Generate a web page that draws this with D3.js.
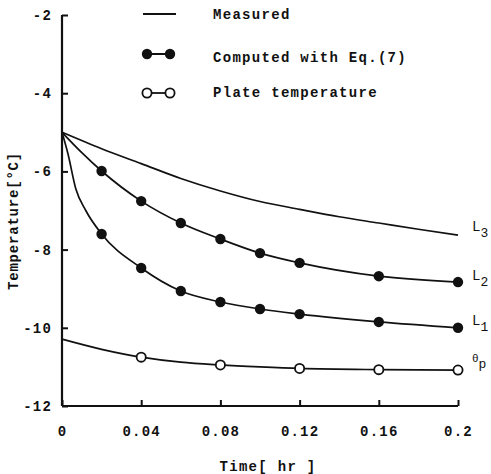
<!DOCTYPE html>
<html>
<head>
<meta charset="utf-8">
<script src="https://cdn.jsdelivr.net/npm/d3@7"></script>
<style>
  body { margin: 0; background: #fff; }
  text { font-family: "Liberation Mono", "DejaVu Sans Mono", monospace; font-weight: bold; fill: #111; }
</style>
</head>
<body>
<svg></svg>
<script>
// tick values
let xTicks = [0, 0.04, 0.08, 0.12, 0.16, 0.2]
let yTicks = [-12, -10, -8, -6, -4, -2]

// measured curve L3 (no markers)
let l3Time = [0, 0.02, 0.04, 0.06, 0.08, 0.10, 0.12, 0.14, 0.16, 0.18, 0.2]
let l3Temp = [-5, -5.42, -5.8, -6.18, -6.5, -6.77, -6.97, -7.16, -7.32, -7.48, -7.63]

// L2 line and computed points
let l2Time = [0, 0.01, 0.02, 0.04, 0.06, 0.08, 0.10, 0.12, 0.16, 0.2]
let l2Temp = [-5, -5.52, -5.99, -6.76, -7.32, -7.73, -8.09, -8.34, -8.68, -8.83]

// L1 line and computed points
let l1Time = [0, 0.003, 0.007, 0.012, 0.02, 0.04, 0.06, 0.08, 0.10, 0.12, 0.16, 0.2]
let l1Temp = [-5, -5.55, -6.45, -7.0, -7.6, -8.47, -9.06, -9.34, -9.52, -9.65, -9.85, -10.0]

let compTime = [0.02, 0.04, 0.06, 0.08, 0.10, 0.12, 0.16, 0.2]
let compL2 = [-5.99, -6.76, -7.32, -7.73, -8.09, -8.34, -8.68, -8.83]
let compL1 = [-7.6, -8.47, -9.06, -9.34, -9.52, -9.65, -9.85, -10.0]

// plate temperature
let plateTime = [0, 0.02, 0.04, 0.06, 0.08, 0.10, 0.12, 0.16, 0.2]
let plateTemp = [-10.29, -10.55, -10.75, -10.88, -10.95, -11.0, -11.04, -11.07, -11.08]
let plateMarkTime = [0.04, 0.08, 0.12, 0.16, 0.2]
let plateMarkTemp = [-10.75, -10.95, -11.04, -11.07, -11.08]

let width = 491
let height = 474

let svg = d3.select('svg').attr('width', width).attr('height', height)

let xScale = d3.scaleLinear().domain([0, 0.2]).range([62, 458])
let yScale = d3.scaleLinear().domain([-12, -2]).range([406, 15])

let zip = (xs, ys) => xs.map((x, i) => [x, ys[i]])

let line = d3.line()
    .x(d => xScale(d[0]))
    .y(d => yScale(d[1]))
    .curve(d3.curveMonotoneX)

let drawAxes = () => {
    let xAxis = d3.axisBottom(xScale)
        .tickValues(xTicks)
        .tickSize(-6)
        .tickPadding(20)
        .tickFormat(d => String(+d.toFixed(2)))
    let yAxis = d3.axisLeft(yScale)
        .tickValues(yTicks)
        .tickSize(-6)
        .tickPadding(10)
        .tickFormat(d => (d < 0 ? '-' : '') + Math.abs(d))

    let gx = svg.append('g')
        .attr('transform', 'translate(0,' + yScale(-12) + ')')
        .call(xAxis)
    let gy = svg.append('g')
        .attr('transform', 'translate(' + xScale(0) + ',0)')
        .call(yAxis)

    for (let g of [gx, gy]) {
        g.select('.domain').attr('stroke', '#111').attr('stroke-width', 2.2)
        g.selectAll('.tick line').attr('stroke', '#111').attr('stroke-width', 2)
        g.selectAll('.tick text')
            .style('font-size', '14px')
            .style('font-family', '"Liberation Mono", monospace')
            .style('font-weight', 'bold')
            .style('letter-spacing', '1.2px')
            .attr('fill', '#111')
    }
    gx.select('.domain').attr('d', 'M' + xScale(0) + ',0H' + xScale(0.2))
    gy.select('.domain').attr('d', 'M0,' + yScale(-2) + 'V' + yScale(-12))

    svg.append('text')
        .attr('x', 268)
        .attr('y', 467)
        .attr('text-anchor', 'middle')
        .attr('dominant-baseline', 'middle')
        .style('font-size', '14px')
        .style('letter-spacing', '1.3px')
        .text('Time[ hr ]')

    svg.append('text')
        .attr('transform', 'translate(14,221) rotate(-90)')
        .attr('text-anchor', 'middle')
        .attr('dominant-baseline', 'middle')
        .style('font-size', '14px')
        .style('letter-spacing', '0.8px')
        .text('Temperature[°C]')
}

let drawCurves = () => {
    let curves = [
        zip(l3Time, l3Temp),
        zip(l2Time, l2Temp),
        zip(l1Time, l1Temp),
        zip(plateTime, plateTemp)
    ]
    svg.selectAll('path.curve')
        .data(curves)
        .enter()
        .append('path')
        .attr('class', 'curve')
        .attr('d', d => line(d))
        .attr('fill', 'none')
        .attr('stroke', '#111')
        .attr('stroke-width', 1.7)

    let filled = zip(compTime, compL2).concat(zip(compTime, compL1))
    svg.selectAll('circle.comp')
        .data(filled)
        .enter()
        .append('circle')
        .attr('class', 'comp')
        .attr('cx', d => xScale(d[0]))
        .attr('cy', d => yScale(d[1]))
        .attr('r', 5.2)
        .attr('fill', '#111')

    svg.selectAll('circle.plate')
        .data(zip(plateMarkTime, plateMarkTemp))
        .enter()
        .append('circle')
        .attr('class', 'plate')
        .attr('cx', d => xScale(d[0]))
        .attr('cy', d => yScale(d[1]))
        .attr('r', 4.6)
        .attr('fill', '#fff')
        .attr('stroke', '#111')
        .attr('stroke-width', 1.8)
}

let drawCurveLabels = () => {
    let labels = [
        { main: 'L', sub: '3', y: l3Temp[l3Temp.length - 1], dy: -4 },
        { main: 'L', sub: '2', y: compL2[compL2.length - 1], dy: -2 },
        { main: 'L', sub: '1', y: compL1[compL1.length - 1], dy: -3 },
        { main: 'θ', sub: 'p', y: plateMarkTemp[plateMarkTemp.length - 1], dy: -8 }
    ]
    let t = svg.selectAll('text.clabel')
        .data(labels)
        .enter()
        .append('text')
        .attr('class', 'clabel')
        .attr('x', 472)
        .attr('y', d => yScale(d.y) + d.dy)
        .style('font-size', '14px')
        .style('font-weight', 'normal')
    t.append('tspan').text(d => d.main)
        .style('font-size', d => d.main == 'θ' ? '11px' : '14px')
    t.append('tspan').attr('dy', 6).style('font-size', '13px').text(d => d.sub)
}

let drawLegend = () => {
    let g = svg.append('g')
    g.append('line')
        .attr('x1', 143).attr('x2', 176)
        .attr('y1', 14).attr('y2', 14)
        .attr('stroke', '#111').attr('stroke-width', 2)

    g.append('line')
        .attr('x1', 147).attr('x2', 170)
        .attr('y1', 54).attr('y2', 54)
        .attr('stroke', '#111').attr('stroke-width', 2)
    g.selectAll('circle.lf')
        .data([147, 170])
        .enter()
        .append('circle')
        .attr('cx', d => d).attr('cy', 54).attr('r', 5.2)
        .attr('fill', '#111')

    g.append('line')
        .attr('x1', 147).attr('x2', 170)
        .attr('y1', 93).attr('y2', 93)
        .attr('stroke', '#111').attr('stroke-width', 1.8)
    g.selectAll('circle.lo')
        .data([147, 170])
        .enter()
        .append('circle')
        .attr('cx', d => d).attr('cy', 93).attr('r', 4.6)
        .attr('fill', '#fff').attr('stroke', '#111').attr('stroke-width', 1.8)

    let names = ['Measured', 'Computed with Eq.(7)', 'Plate temperature']
    let ys = [15, 58, 93]
    g.selectAll('text.leg')
        .data(names)
        .enter()
        .append('text')
        .attr('class', 'leg')
        .attr('x', 213)
        .attr('y', (d, i) => ys[i])
        .attr('dominant-baseline', 'middle')
        .style('font-size', '14px')
        .style('letter-spacing', '1.3px')
        .text(d => d)
}

drawAxes()
drawCurves()
drawCurveLabels()
drawLegend()
</script>
</body>
</html>
